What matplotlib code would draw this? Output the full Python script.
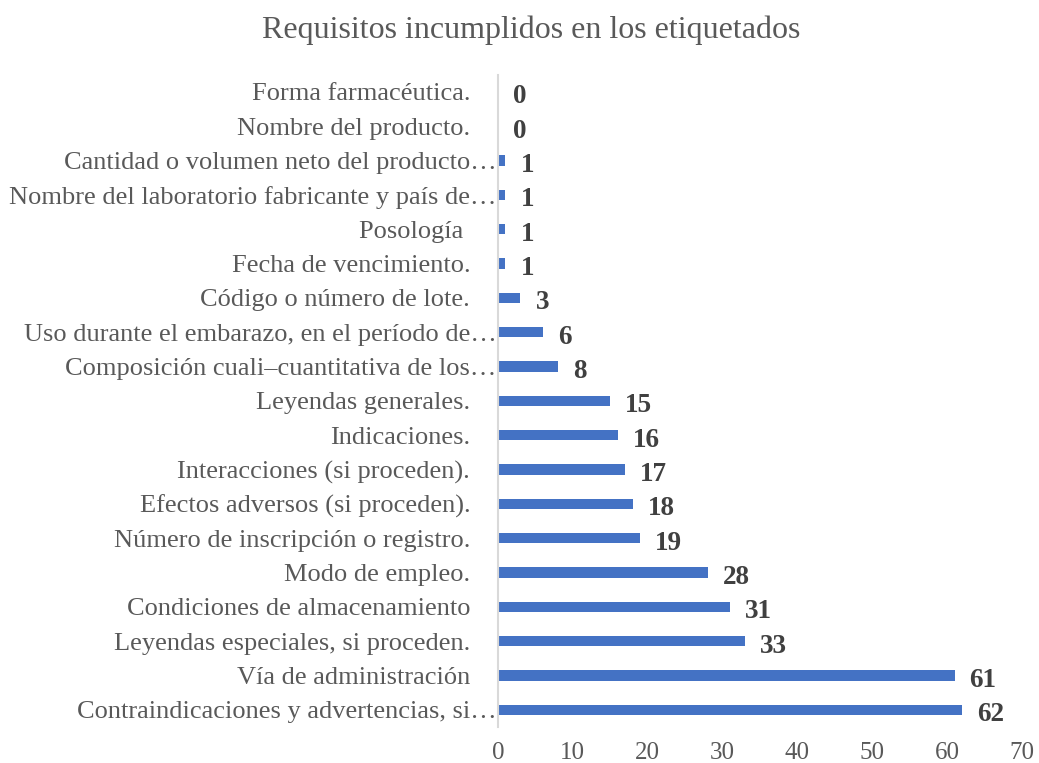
import matplotlib.pyplot as plt
import numpy as np

plt.rcParams['font.family'] = ['Liberation Serif', 'DejaVu Serif']

categories = [
    "Forma farmacéutica.",
    "Nombre del producto.",
    "Cantidad o volumen neto del producto…",
    "Nombre del laboratorio fabricante y país de…",
    "Posología ",
    "Fecha de vencimiento.",
    "Código o número de lote.",
    "Uso durante el embarazo, en el período de…",
    "Composición cuali–cuantitativa de los…",
    "Leyendas generales.",
    "Indicaciones.",
    "Interacciones (si proceden).",
    "Efectos adversos (si proceden).",
    "Número de inscripción o registro.",
    "Modo de empleo.",
    "Condiciones de almacenamiento",
    "Leyendas especiales, si proceden.",
    "Vía de administración",
    "Contraindicaciones y advertencias, si…",
]
values = [0, 0, 1, 1, 1, 1, 3, 6, 8, 15, 16, 17, 18, 19, 28, 31, 33, 61, 62]
truncated = [c.endswith("…") for c in categories]

text_color = '#595959'
bar_color = '#4472C4'

fig = plt.figure(figsize=(10.39, 7.63), dpi=100)
ax = fig.add_axes([0.4793, 0.047, 0.5043, 0.855])

y = np.arange(len(categories))
ax.barh(y, values, height=0.3, color=bar_color)
ax.set_ylim(len(categories) - 0.5, -0.5)
ax.set_xlim(0, 70)
ax.set_xticks(np.arange(0, 71, 10))
ax.set_yticks(y)
ax.set_yticklabels(categories, fontsize=19, color=text_color)
ax.tick_params(axis='x', length=0, pad=11, labelsize=18, labelcolor=text_color)
ax.tick_params(axis='y', length=0)
for tick, trunc in zip(ax.yaxis.get_major_ticks(), truncated):
    tick.set_pad(1 if trunc else 20)

for s in ['top', 'right', 'bottom']:
    ax.spines[s].set_visible(False)
ax.spines['left'].set_color('#d9d9d9')
ax.spines['left'].set_linewidth(1.5)

for yi, v in zip(y, values):
    ax.annotate(str(v), xy=(v, yi), xytext=(15, -5), textcoords='offset pixels',
                ha='left', va='center', fontsize=19.5, fontweight='bold',
                color='#404040')

fig.suptitle("Requisitos incumplidos en los etiquetados", x=0.511, y=0.98,
             fontsize=23, color=text_color)

fig.savefig('out.png', dpi=100)
